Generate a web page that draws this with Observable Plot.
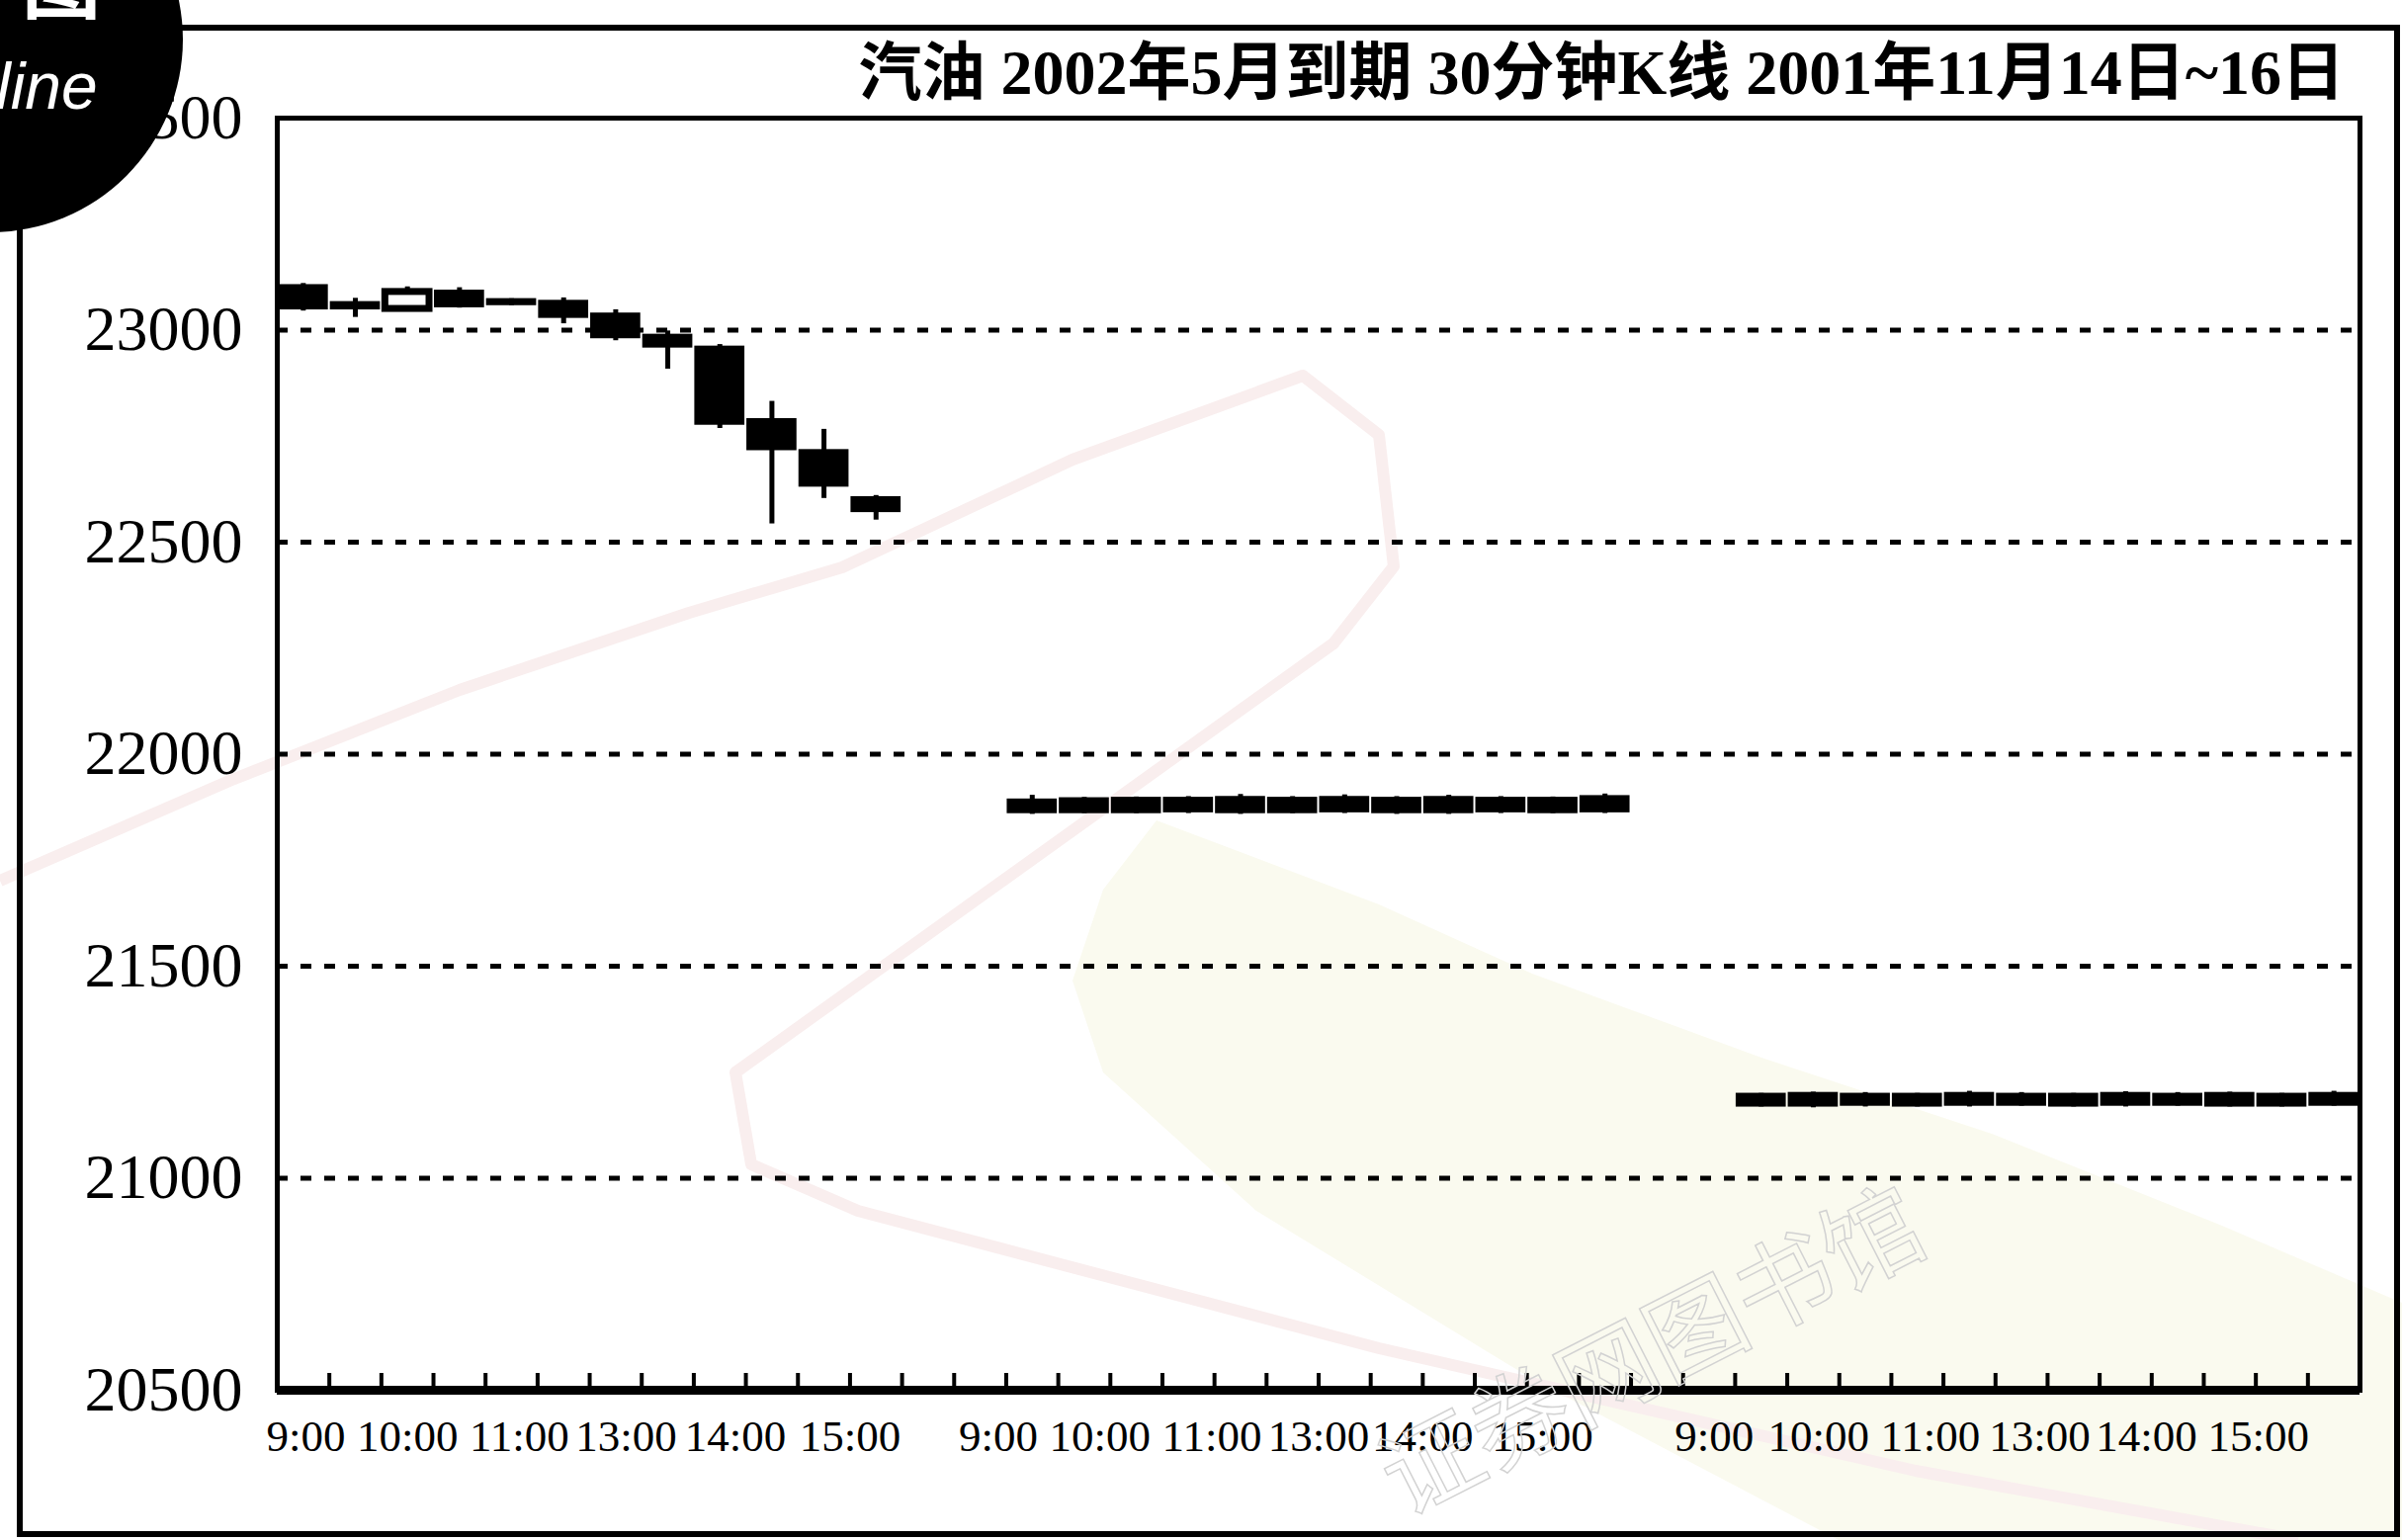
<!DOCTYPE html>
<html>
<head>
<meta charset="utf-8">
<script src="https://cdn.jsdelivr.net/npm/d3@7"></script>
<script src="https://cdn.jsdelivr.net/npm/@observablehq/plot@0.6"></script>
<style>
html, body { margin: 0; padding: 0; background: #fff; }
#page { position: relative; width: 2430px; height: 1558px; overflow: hidden; background: #fff; }
#bg, #chart, #overlay { position: absolute; left: 0; top: 0; }
#overlay { pointer-events: none; }
</style>
</head>
<body>
<div id="page">
  <svg id="bg" width="2430" height="1558" xmlns="http://www.w3.org/2000/svg">
    <path d="M1170,830 L1395,915 L1550,985 L1782,1070 L2015,1147 L2248,1240 L2430,1318 L2430,1558 L1860,1558 L1550,1395 L1271,1225 L1116,1085 L1085,992 L1116,900 Z" fill="#fafaef"/>
    <path d="M0,891 L232,790 L465,698 L697,620 L852,574 L1085,465 L1318,380 L1395,440 L1410,573 L1349,651 L744,1085 L760,1178 L868,1225 L1395,1364 L1938,1488 L2325,1558" fill="none" stroke="#f9eeee" stroke-width="12" stroke-linejoin="round"/>
  </svg>
  <div id="chart"></div>
  <svg id="overlay" width="2430" height="1558" xmlns="http://www.w3.org/2000/svg">
    <rect x="20" y="28" width="2405" height="1524" fill="none" stroke="#000" stroke-width="6"/>
    <text transform="translate(1420,1535) rotate(-27)" font-family="'Noto Sans CJK SC'" font-size="100" fill="none" stroke="#d2d2d2" stroke-width="1.5">证券网图书馆</text>
    <circle cx="-10" cy="40" r="195" fill="#000"/>
    <text x="22" y="12" font-family="'Noto Sans CJK SC'" font-weight="bold" font-size="80" fill="#fff">图</text>
    <text x="-4" y="110" font-family="'Liberation Sans'" font-style="italic" font-size="66" fill="#fff">line</text>
    <text id="title" x="2372" y="95" text-anchor="end" font-family="'Liberation Serif','Noto Sans CJK SC'" font-weight="bold" font-size="64" fill="#000">汽油 2002年5月到期 30分钟K线 2001年11月14日~16日</text>
  </svg>
</div>
<script>
// ---- data ----
const slotCount = 40;                 // 30-minute slots on the x axis
const dayStartSlot = [0, 14, 28];     // first slot of 14th, 15th, 16th November
const barsPerDay = 12;

const open  = [23105, 23065, 23050, 23092, 23072, 23068, 23038, 22988, 22960, 22789, 22716, 22605,
               21892, 21895, 21896, 21896, 21898, 21896, 21898, 21896, 21898, 21896, 21896, 21900,
               21198, 21200, 21198, 21198, 21200, 21198, 21198, 21200, 21198, 21200, 21198, 21200];
const high  = [23110, 23075, 23102, 23100, 23074, 23076, 23048, 22998, 22966, 22832, 22766, 22610,
               21903, 21898, 21899, 21900, 21905, 21900, 21904, 21900, 21903, 21900, 21899, 21906,
               21200, 21203, 21202, 21200, 21205, 21202, 21200, 21204, 21202, 21203, 21200, 21205];
const low   = [23045, 23030, 23044, 23052, 23058, 23015, 22975, 22908, 22768, 22543, 22603, 22552,
               21858, 21860, 21860, 21860, 21858, 21860, 21860, 21858, 21858, 21860, 21860, 21860,
               21168, 21166, 21168, 21168, 21168, 21170, 21168, 21168, 21170, 21168, 21168, 21170];
const close = [23050, 23050, 23090, 23055, 23060, 23030, 22982, 22960, 22778, 22718, 22632, 22572,
               21862, 21862, 21862, 21864, 21862, 21862, 21864, 21862, 21862, 21864, 21862, 21864,
               21170, 21170, 21172, 21170, 21172, 21172, 21170, 21172, 21172, 21170, 21170, 21172];

const yTicks = [20500, 21000, 21500, 22000, 22500, 23000, 23500];
const gridValues = [21000, 21500, 22000, 22500, 23000];
const timeLabels = ["9:00", "10:00", "11:00", "13:00", "14:00", "15:00"];
// slot position (in slot units) at which each day's time labels sit
const timeLabelSlots = [0.55, 2.5, 4.65, 6.7, 8.8, 11.0,
                        13.85, 15.8, 17.95, 20.0, 22.0, 24.3,
                        27.6, 29.6, 31.75, 33.85, 35.9, 38.05];

// ---- build ----
const bars = open.map((o, i) => ({
  slot: dayStartSlot[Math.floor(i / barsPerDay)] + (i % barsPerDay),
  open: o, high: high[i], low: low[i], close: close[i]
}));
const upBars = bars.filter(d => d.close > d.open);
const downBars = bars.filter(d => d.close <= d.open);
const labelAt = new Map(timeLabelSlots.map((s, i) => [s, timeLabels[i % timeLabels.length]]));
const boundaries = d3.range(1, slotCount);

const W = 2430, H = 1558, mL = 280, mR = 43, mT = 119, mB = 152;
const plotH = H - mT - mB;

const chart = Plot.plot({
  width: W, height: H,
  marginLeft: mL, marginRight: mR, marginTop: mT, marginBottom: mB,
  style: { background: "transparent", overflow: "visible", color: "#000" },
  x: { domain: [0, slotCount] },
  y: { domain: [20500, 23500] },
  marks: [
    Plot.ruleY(gridValues, { stroke: "#000", strokeWidth: 5, strokeDasharray: "11,13" }),
    Plot.ruleX(bars, { x: d => d.slot + 0.5, y1: "low", y2: "high", stroke: "#000", strokeWidth: 5 }),
    Plot.rect(downBars, { x1: "slot", x2: d => d.slot + 1, y1: "open", y2: "close",
      fill: "#000", stroke: "#000", strokeWidth: 2, insetLeft: 2, insetRight: 2 }),
    Plot.rect(upBars, { x1: "slot", x2: d => d.slot + 1, y1: "open", y2: "close",
      fill: "#fff", stroke: "#000", strokeWidth: 7, insetLeft: 4, insetRight: 4 }),
    Plot.frame({ stroke: "#000", strokeWidth: 5 }),
    Plot.ruleY([20500], { stroke: "#000", strokeWidth: 9 }),
    Plot.ruleX(boundaries, { x: d => d, stroke: "#000", strokeWidth: 4, insetTop: plotH - 17 }),
    Plot.axisY({ ticks: yTicks, tickSize: 0, tickPadding: 35, tickFormat: d => String(d),
      fontSize: 64, fontFamily: "Liberation Serif", label: null }),
    Plot.axisX({ ticks: timeLabelSlots, tickSize: 0, tickPadding: 30, tickFormat: d => labelAt.get(d),
      fontSize: 45, fontFamily: "Liberation Serif", stroke: "#000", strokeWidth: 0.8, label: null })
  ]
});
document.getElementById("chart").appendChild(chart);
</script>
</body>
</html>
